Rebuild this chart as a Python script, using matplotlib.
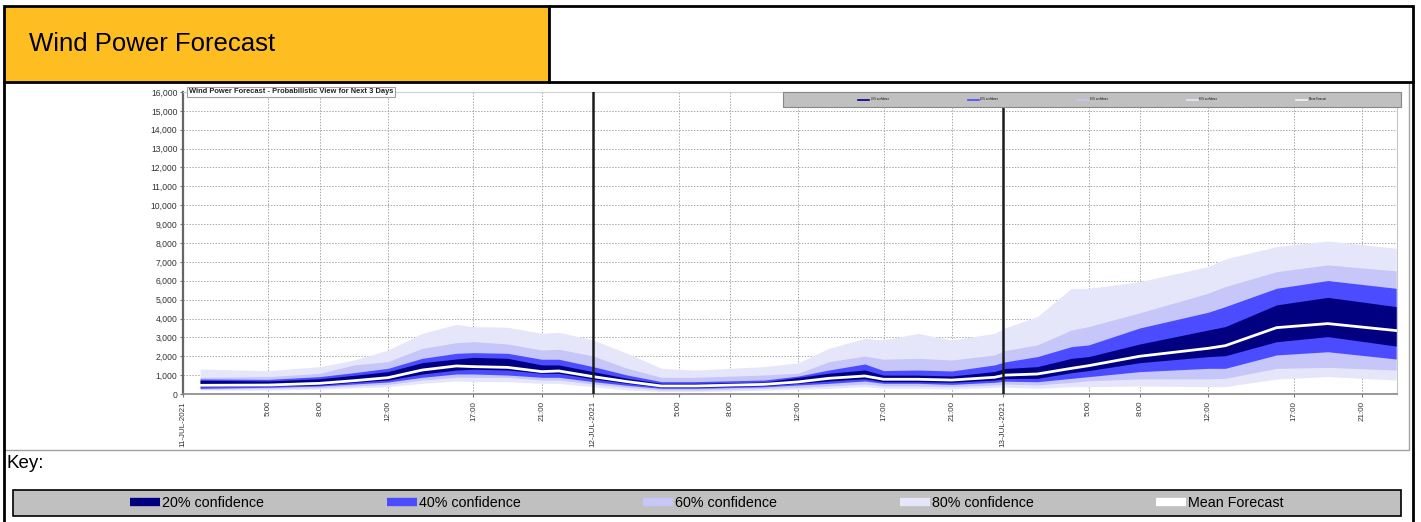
import matplotlib
matplotlib.use("Agg")
import matplotlib.pyplot as plt
from matplotlib.patches import Rectangle
from matplotlib.lines import Line2D
from matplotlib.ticker import FuncFormatter, FixedLocator

plt.rcParams['font.family'] = ['Liberation Sans', 'DejaVu Sans']

# ---------------- data (hours since 11-JUL-2021 00:00) ----------------
hours = [1, 5, 8, 10, 12, 14, 16, 17, 19, 21, 22, 24,
         26, 28, 30, 34, 36, 37.8, 39.9, 41, 43, 45, 47.5,
         48.1, 50, 52, 53, 56, 60, 61, 64, 67, 71]

p90 = [1325, 1235, 1450, 1800, 2330, 3215, 3690, 3570, 3535, 3215, 3270, 2860,
       2155, 1360, 1270, 1450, 1650, 2420, 2950, 2860, 3215, 2860, 3215,
       3500, 4100, 5600, 5600, 5950, 6750, 7155, 7810, 8110, 7720]
p80 = [880, 920, 1095, 1540, 1715, 2420, 2720, 2775, 2650, 2330, 2370, 2015,
       1360, 885, 885, 1005, 1100, 1710, 2010, 1840, 1890, 1800, 2070,
       2300, 2600, 3390, 3570, 4300, 5340, 5690, 6480, 6840, 6520]
p70 = [795, 775, 920, 1130, 1360, 1890, 2155, 2190, 2155, 1840, 1840, 1450,
       1005, 655, 655, 740, 950, 1270, 1590, 1240, 1270, 1220, 1540,
       1700, 1980, 2510, 2600, 3500, 4330, 4630, 5600, 6010, 5600]
p60 = [725, 690, 810, 990, 1185, 1660, 1855, 1940, 1890, 1540, 1540, 1185,
       830, 565, 565, 635, 880, 1100, 1270, 1000, 1000, 955, 1190,
       1350, 1450, 1890, 1980, 2650, 3390, 3570, 4720, 5120, 4630]
mean = [460, 475, 565, 705, 865, 1270, 1485, 1450, 1410, 1185, 1220, 920,
        655, 425, 425, 510, 640, 830, 955, 780, 780, 740, 885,
        1000, 1060, 1360, 1500, 2000, 2420, 2560, 3515, 3730, 3360]
p40 = [390, 425, 475, 620, 740, 1060, 1270, 1310, 1270, 1095, 1095, 795,
       565, 355, 355, 440, 565, 690, 810, 650, 650, 620, 740,
       820, 830, 1130, 1240, 1660, 1980, 2030, 2770, 3040, 2540]
p30 = [300, 355, 425, 530, 635, 885, 1060, 1060, 1005, 885, 885, 655,
       460, 300, 300, 380, 480, 565, 690, 565, 565, 510, 620,
       680, 650, 830, 920, 1185, 1360, 1360, 2070, 2240, 1855]
p20 = [250, 285, 335, 425, 510, 740, 885, 885, 885, 740, 740, 530,
       355, 210, 210, 290, 350, 425, 530, 425, 425, 390, 480,
       530, 480, 620, 700, 800, 800, 830, 1360, 1410, 1270]
p10 = [210, 210, 250, 320, 390, 565, 690, 655, 655, 565, 565, 390,
       210, 125, 125, 200, 250, 300, 390, 300, 300, 265, 350,
       360, 300, 390, 390, 420, 390, 390, 795, 920, 740]

tick_hours = [0, 5, 8, 12, 17, 21, 24, 29, 32, 36, 41, 45, 48, 53, 56, 60, 65, 69]
tick_labels = ['11-JUL-2021', '5:00', '8:00', '12:00', '17:00', '21:00',
               '12-JUL-2021', '5:00', '8:00', '12:00', '17:00', '21:00',
               '13-JUL-2021', '5:00', '8:00', '12:00', '17:00', '21:00']
day_hours = [24, 48]

band_labels = ['20% confidence', '40% confidence', '60% confidence', '80% confidence', 'Mean Forecast']
band_colors = ['#000080', '#4B4BFF', '#C6C6F8', '#E6E6FA', '#FFFFFF']

# ---------------- figure ----------------
W, H = 1421, 522
fig = plt.figure(figsize=(W / 100, H / 100), dpi=100)
fig.patch.set_facecolor('white')


def fx(x):
    return x / W


def fy(y):
    return 1 - y / H


def rect(x0, y0, x1, y1, target=None, **kw):
    r = Rectangle((fx(x0), fy(y1)), fx(x1) - fx(x0), fy(y0) - fy(y1),
                  transform=fig.transFigure, **kw)
    if target is None:
        fig.add_artist(r)
    else:
        r.set_clip_on(False)
        target.add_patch(r)
    return r


# header
rect(4, 6, 549, 82, facecolor='#FEBE22', edgecolor='black', linewidth=2, zorder=1)
rect(549, 6, 1413, 82, facecolor='white', edgecolor='black', linewidth=2, zorder=1)
fig.text(fx(29), fy(44), 'Wind Power Forecast', fontsize=18.5, va='center', ha='left',
         color='black')

# chart frame
rect(4, 82, 1409, 450, facecolor='white', edgecolor='#A0A0A0', linewidth=1, zorder=0)
fig.add_artist(Line2D([fx(4), fx(4)], [fy(82), fy(522)], transform=fig.transFigure,
                      color='black', lw=2))
fig.add_artist(Line2D([fx(1413), fx(1413)], [fy(82), fy(522)], transform=fig.transFigure,
                      color='black', lw=2))

# ---------------- axes ----------------
ax = fig.add_axes([fx(183), fy(394), fx(1397) - fx(183), fy(92) - fy(394)])
ax.set_xlim(0, 71.05)
ax.set_ylim(0, 16000)

ax.fill_between(hours, p10, p90, color=band_colors[3], lw=0, zorder=2)
ax.fill_between(hours, p20, p80, color=band_colors[2], lw=0, zorder=3)
ax.fill_between(hours, p30, p70, color=band_colors[1], lw=0, zorder=4)
ax.fill_between(hours, p40, p60, color=band_colors[0], lw=0, zorder=5)
ax.plot(hours, mean, color='white', lw=2.0, zorder=6, solid_joinstyle='miter')

ax.yaxis.set_major_locator(FixedLocator(list(range(0, 16001, 1000))))
ax.yaxis.set_major_formatter(FuncFormatter(lambda v, p: f'{int(v):,}'))
ax.xaxis.set_major_locator(FixedLocator(tick_hours))
ax.set_xticklabels(tick_labels, rotation=90, fontsize=5.8, color='#333333')
ax.tick_params(axis='y', labelsize=6.2, labelcolor='#333333', length=2, color='#777777', pad=2)
ax.tick_params(axis='x', length=2, color='#777777', pad=3)

ax.grid(True, color='#A8A8A8', linestyle=(0, (1.5, 1.5)), linewidth=0.7)
for gl in ax.get_xgridlines() + ax.get_ygridlines():
    gl.set_zorder(7)

for d in day_hours:
    ax.axvline(d, color='#1A1A1A', lw=1.8, zorder=8)

ax.spines['left'].set_color('#666666')
ax.spines['left'].set_linewidth(1.6)
ax.spines['bottom'].set_color('#888888')
ax.spines['bottom'].set_linewidth(1.2)
ax.spines['right'].set_color('#C8C8C8')
ax.spines['top'].set_color('#D0D0D0')

# chart title box
ax.text(0.005, 1.0, 'Wind Power Forecast - Probabilistic View for Next 3 Days',
        transform=ax.transAxes, fontsize=5.4, fontweight='bold', color='#222222',
        ha='left', va='center', zorder=10,
        bbox=dict(boxstyle='square,pad=0.25', facecolor='white', edgecolor='#A0A0A0', lw=0.8))

# mini legend inside chart
mini_handles = [Line2D([], [], color=c, lw=1.2) for c in band_colors[:4]] + \
               [Line2D([], [], color='#F4F4F4', lw=1.2)]
rect(783, 92, 1401, 107, target=ax, facecolor='#C0C0C0', edgecolor='#888888',
     linewidth=0.8, zorder=9)
leg = ax.legend(mini_handles, band_labels, loc='center',
                bbox_to_anchor=((1092 - 183) / (1397 - 183), (394 - 99.5) / 302),
                ncol=5, fontsize=1.8, frameon=False, handlelength=4.5, handletextpad=0.6,
                columnspacing=31.5)
leg.set_zorder(11)

# key
fig.text(fx(6), fy(463), 'Key:', fontsize=13.5, ha='left', va='center', color='black')
rect(13, 490, 1401, 516, facecolor='#C0C0C0', edgecolor='black', linewidth=1.2, zorder=1)
key_handles = [Line2D([], [], color=c, lw=6, solid_capstyle='butt') for c in band_colors]
fig.legend(key_handles, band_labels, loc='center',
           bbox_to_anchor=(fx(707), fy(503)), ncol=5, fontsize=10.3, frameon=False,
           handlelength=2.1, handletextpad=0.15, columnspacing=8.55)

fig.savefig('out.png', dpi=100, facecolor='white')
